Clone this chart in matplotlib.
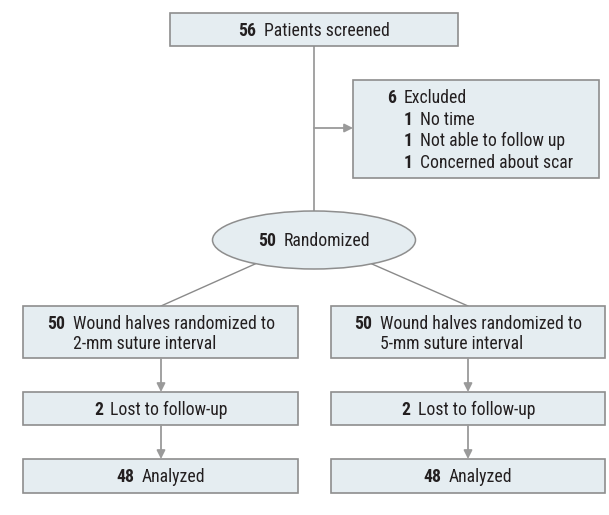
import matplotlib
matplotlib.use("Agg")
import matplotlib.pyplot as plt
from matplotlib.patches import Rectangle, Ellipse
from matplotlib import font_manager

# ---- data ----
screened_n = "56"
screened_label = "Patients screened"
excluded_n = "6"
excluded_label = "Excluded"
excl_reason_n = ["1", "1", "1"]
excl_reasons = ["No time", "Not able to follow up", "Concerned about scar"]
randomized_n = "50"
randomized_label = "Randomized"
arm_n = ["50", "50"]
arm_labels = [["Wound halves randomized to", "2-mm suture interval"],
              ["Wound halves randomized to", "5-mm suture interval"]]
lost_n = ["2", "2"]
lost_label = "Lost to follow-up"
analyzed_n = ["48", "48"]
analyzed_label = "Analyzed"

# ---- style ----
FILL = "#e5edf1"
EDGE = "#8e8e8e"
LINE = "#8a8a8a"
ARROW = "#9a9a9a"
TXT = "#231f20"

names = {f.name for f in font_manager.fontManager.ttflist}
choice = "Lato"
for cand in ["Liberation Sans Narrow", "DejaVu Sans Condensed", "Roboto Condensed",
             "Open Sans Condensed", "Lato"]:
    if cand in names:
        choice = cand
        break
FONT = [choice, "DejaVu Sans"]
GAP = 7.5
DY = 1.2

W, H = 609, 515
fig = plt.figure(figsize=(W / 100, H / 100), dpi=100)
ax = fig.add_axes([0, 0, 1, 1])
ax.set_xlim(0, W)
ax.set_ylim(H, 0)
ax.axis("off")
renderer = fig.canvas.get_renderer()


def width(t):
    bb = t.get_window_extent(renderer=renderer)
    return bb.width


# pick a size so the text width matches the reference lettering
_probe = ax.text(0, 0, screened_label, fontsize=10, family=FONT)
FS = 10 * 124 / width(_probe)
_probe.remove()


def box(x0, y0, x1, y1):
    ax.add_patch(Rectangle((x0, y0), x1 - x0, y1 - y0, facecolor=FILL,
                           edgecolor=EDGE, lw=1.2, zorder=2))


def label(x, y, num, rest, ha="center"):
    y = y + DY
    tn = ax.text(0, y, num, fontsize=FS, fontweight="bold", family=FONT,
                 color=TXT, ha="left", va="center", zorder=5)
    tr = ax.text(0, y, rest, fontsize=FS, family=FONT, color=TXT,
                 ha="left", va="center", zorder=5)
    wn, wr = width(tn), width(tr)
    if ha == "center":
        start = x - (wn + GAP + wr) / 2
    else:
        start = x
    tn.set_x(start)
    tr.set_x(start + wn + GAP)


def label_block(xc, ys, num, lines):
    ys = [y + DY for y in ys]
    tn = ax.text(0, ys[0], num, fontsize=FS, fontweight="bold", family=FONT,
                 color=TXT, ha="left", va="center", zorder=5)
    trs = [ax.text(0, y, s, fontsize=FS, family=FONT, color=TXT,
                   ha="left", va="center", zorder=5) for y, s in zip(ys, lines)]
    wn = width(tn)
    wr = max(width(t) for t in trs)
    start = xc - (wn + GAP + wr) / 2
    tn.set_x(start)
    for t in trs:
        t.set_x(start + wn + GAP)


def arrow(xy_from, xy_to):
    ax.annotate("", xy=xy_to, xytext=xy_from,
                arrowprops=dict(arrowstyle="-|>,head_length=0.5,head_width=0.25",
                                color=ARROW, lw=1.3,
                                mutation_scale=10, shrinkA=0, shrinkB=0),
                zorder=3)


# top box
cx = 314
box(170, 13, 458, 46)
label(cx, 30, screened_n, screened_label)

# main vertical line
ax.plot([cx, cx], [46, 212], color=LINE, lw=1.1, zorder=1)

# excluded box
box(353, 80, 599, 178)
arrow((cx, 128), (353, 128))
ex_y = [97, 118.5, 140, 161.5]
label(387, ex_y[0], excluded_n, excluded_label, ha="left")
for y, n, r in zip(ex_y[1:], excl_reason_n, excl_reasons):
    label(404, y, n, r, ha="left")

# ellipse
ax.add_patch(Ellipse((cx, 240), 203, 58, facecolor=FILL, edgecolor=EDGE,
                     lw=1.1, zorder=2))
label(cx, 240, randomized_n, randomized_label)

# arms
arm_x = [(23, 298), (331, 605)]
arm_c = [161, 468]
branch_start = [(255, 264), (372, 264)]
for i in range(2):
    x0, x1 = arm_x[i]
    c = arm_c[i]
    ax.plot([branch_start[i][0], c], [branch_start[i][1], 306], color=LINE,
            lw=1.0, zorder=1)
    box(x0, 306, x1, 358)
    label_block(c, [323, 343], arm_n[i], arm_labels[i])
    arrow((c, 358), (c, 392))
    box(x0, 392, x1, 425)
    label(c, 408.5, lost_n[i], lost_label)
    arrow((c, 425), (c, 459))
    box(x0, 459, x1, 493)
    label(c, 476, analyzed_n[i], analyzed_label)

fig.savefig("out.png", dpi=100, facecolor="white")
